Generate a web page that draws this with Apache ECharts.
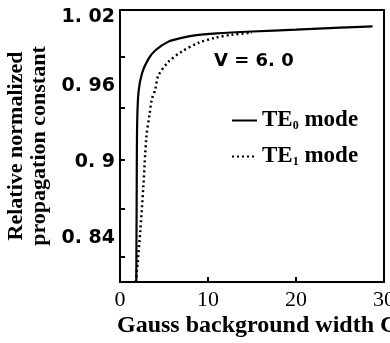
<!DOCTYPE html>
<html>
<head>
<meta charset="utf-8">
<script src="https://cdn.jsdelivr.net/npm/echarts@6/dist/echarts.min.js"></script>
<style>html,body{margin:0;padding:0;background:#fff}#c{width:390px;height:343px}</style>
</head>
<body>
<div id="c"></div>
<script>
// TE0 mode (solid)
const te0X = [1.85, 1.9, 1.95, 2.1, 2.5, 3.2, 4.0, 5.5, 7.0, 8.5, 11, 15, 20, 25, 28.7];
const te0Y = [0.805, 0.88, 0.93, 0.955, 0.97, 0.981, 0.988, 0.995, 0.998, 1.0, 1.0015, 1.003, 1.0045, 1.006, 1.007];
// TE1 mode (dotted)
const te1X = [1.8, 2.0, 2.3, 2.65, 3.0, 3.35, 3.6, 4.0, 4.35, 5.5, 7.0, 8.9, 10.8, 12.7, 15];
const te1Y = [0.805, 0.82, 0.845, 0.88, 0.92, 0.937, 0.949, 0.957, 0.968, 0.979, 0.987, 0.994, 0.998, 1.0005, 1.002];
// axis ticks and labels
const yLabelValues = [0.84, 0.9, 0.96, 1.02];
const yLabelTexts = ['0. 84', '0. 9', '0. 96', '1. 02'];
const yTickValues = [0.825, 0.863, 0.902, 0.943, 0.983];
const xLabelValues = [0, 10, 20, 30];
const xTickValues = [10, 20];
const seriesNames = ['TE0 mode', 'TE1 mode'];

const pairs = (xs, ys) => xs.map((x, i) => [x, ys[i]]);
const chart = echarts.init(document.getElementById('c'));
chart.setOption({
  animation: false,
  backgroundColor: '#fff',
  grid: { left: 120, right: 6, top: 10, bottom: 61, outerBoundsMode: 'none', containLabel: false, show: true, borderColor: '#000', borderWidth: 2, backgroundColor: 'transparent' },
  xAxis: {
    type: 'value', min: 0, max: 30,
    axisLine: { show: true, lineStyle: { color: '#000', width: 2 } },
    axisTick: { show: true, inside: true, length: 5, lineStyle: { color: '#000', width: 2 }, customValues: xTickValues },
    axisLabel: { customValues: xLabelValues, color: '#000', fontFamily: 'Liberation Serif', fontSize: 22, margin: 7 },
    splitLine: { show: false },
    name: 'Gauss background width C', nameLocation: 'start', nameGap: 0,
    nameTextStyle: { color: '#000', fontFamily: 'Liberation Serif', fontSize: 24, fontWeight: 'bold', align: 'left', verticalAlign: 'top', padding: [32, 0, 0, -3] }
  },
  yAxis: {
    type: 'value', min: 0.805, max: 1.02,
    axisLine: { show: true, lineStyle: { color: '#000', width: 2 } },
    axisTick: { show: true, inside: true, length: 5, lineStyle: { color: '#000', width: 2 }, customValues: yTickValues },
    axisLabel: {
      customValues: yLabelValues, color: '#000', fontFamily: 'DejaVu Sans', fontWeight: 'bold', fontSize: 19, margin: 5,
      formatter: v => { const i = yLabelValues.findIndex(t => Math.abs(t - v) < 1e-6); return i < 0 ? '' : (i === yLabelValues.length - 1 ? '{t|' + yLabelTexts[i] + '}' : yLabelTexts[i]); },
      rich: { t: { fontFamily: 'DejaVu Sans', fontWeight: 'bold', fontSize: 19, color: '#000', padding: [14, 0, 0, 0] } }
    },
    splitLine: { show: false },
    name: 'Relative normalized\npropagation constant', nameLocation: 'middle', nameRotate: 90, nameGap: 60,
    nameTextStyle: { color: '#000', fontFamily: 'Liberation Serif', fontSize: 22, fontWeight: 'bold', lineHeight: 23 }
  },
  legend: {
    orient: 'vertical', left: 226, top: 104, itemWidth: 25, itemHeight: 16, itemGap: 13,
    data: seriesNames,
    itemStyle: { opacity: 0 },
    formatter: n => '{b|TE}{s|' + n.charAt(2) + '}{b| mode}',
    textStyle: { color: '#000', rich: {
      b: { fontFamily: 'Liberation Serif', fontSize: 23, fontWeight: 'bold', color: '#000' },
      s: { fontFamily: 'Liberation Serif', fontSize: 12, fontWeight: 'bold', color: '#000', padding: [11, 0, 0, 0] }
    } }
  },
  graphic: [
    { type: 'text', left: 214, top: 52, style: { text: 'V = 6. 0', fontFamily: 'DejaVu Sans', fontWeight: 'bold', fontSize: 18, fill: '#000' } }
  ],
  series: [
    { name: seriesNames[0], type: 'line', data: pairs(te0X, te0Y), showSymbol: false, symbol: 'none', smooth: 0.3,
      lineStyle: { color: '#000', width: 2.2 }, itemStyle: { color: '#000' }, z: 3 },
    { name: seriesNames[1], type: 'line', data: pairs(te1X, te1Y), showSymbol: false, symbol: 'none', smooth: 0.3,
      lineStyle: { color: '#000', width: 2.5, type: [2, 3] }, itemStyle: { color: '#000' }, z: 2 }
  ]
});
</script>
</body>
</html>
